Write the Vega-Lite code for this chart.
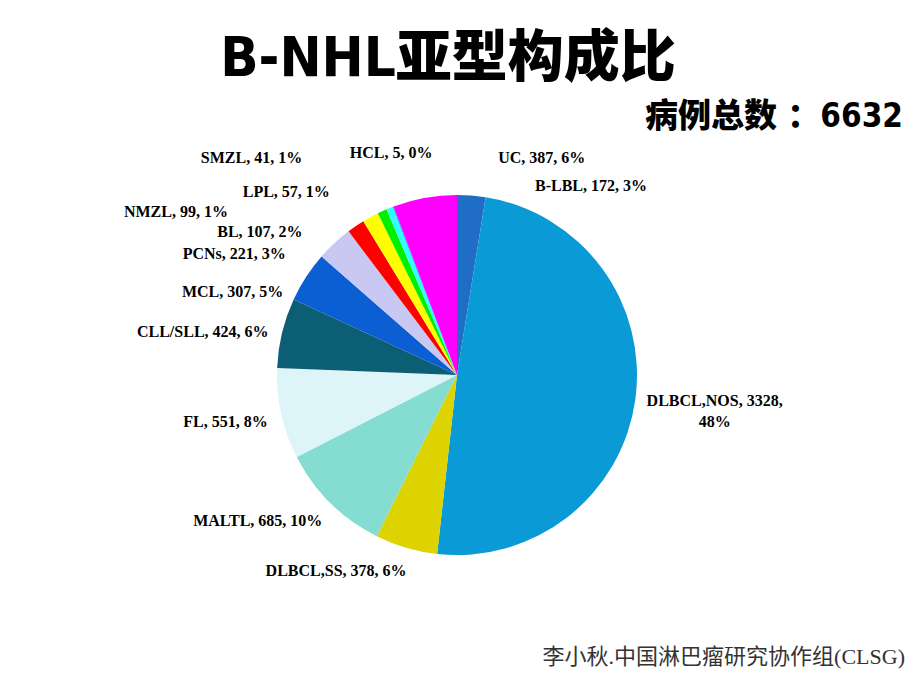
{
  "$schema": "https://vega.github.io/schema/vega-lite/v6.json",
  "autosize": "none",
  "width": 914,
  "height": 490,
  "padding": {"top": 130, "left": 0, "right": 6, "bottom": 70},
  "background": "white",
  "config": {"view": {"stroke": null}},
  "title": {
    "text": "B-NHL亚型构成比",
    "font": "DejaVu Sans Condensed, Liberation Sans Narrow, Noto Sans CJK SC, sans-serif",
    "fontSize": 56,
    "fontWeight": 900,
    "color": "#000000",
    "anchor": "middle",
    "dx": -9,
    "offset": 11
  },
  "data": {
    "values": [
      {"type": "B-LBL", "n": 172, "label": "B-LBL, 172, 3%"},
      {"type": "DLBCL,NOS", "n": 3328, "label": "DLBCL,NOS, 3328,\n48%"},
      {"type": "DLBCL,SS", "n": 378, "label": "DLBCL,SS, 378, 6%"},
      {"type": "MALTL", "n": 685, "label": "MALTL, 685, 10%"},
      {"type": "FL", "n": 551, "label": "FL, 551, 8%"},
      {"type": "CLL/SLL", "n": 424, "label": "CLL/SLL, 424, 6%"},
      {"type": "MCL", "n": 307, "label": "MCL, 307, 5%"},
      {"type": "PCNs", "n": 221, "label": "PCNs, 221, 3%"},
      {"type": "BL", "n": 107, "label": "BL, 107, 2%"},
      {"type": "NMZL", "n": 99, "label": "NMZL, 99, 1%"},
      {"type": "LPL", "n": 57, "label": "LPL, 57, 1%"},
      {"type": "SMZL", "n": 41, "label": "SMZL, 41, 1%"},
      {"type": "HCL", "n": 5, "label": "HCL, 5, 0%"},
      {"type": "UC", "n": 387, "label": "UC, 387, 6%"}
    ]
  },
  "transform": [{"window": [{"op": "row_number", "as": "i"}]}],
  "layer": [
    {
      "mark": {"type": "arc", "outerRadius": 180},
      "encoding": {
        "theta": {"field": "n", "type": "quantitative", "stack": true},
        "order": {"field": "i", "type": "quantitative"},
        "color": {
          "field": "type",
          "type": "nominal",
          "legend": null,
          "scale": {
            "domain": ["B-LBL", "DLBCL,NOS", "DLBCL,SS", "MALTL", "FL", "CLL/SLL", "MCL", "PCNs", "BL", "NMZL", "LPL", "SMZL", "HCL", "UC"],
            "range": ["#1F6DC4", "#0A9AD6", "#DDD300", "#84DDD0", "#DDF4F9", "#0B5E74", "#0C5ED3", "#C8C8F2", "#FF0000", "#FFFF00", "#00EE00", "#2FFFFF", "#3366FF", "#FF00FF"]
          }
        }
      }
    },
    {
      "mark": {"type": "text", "radius": 200, "align": "right", "dx": 6, "dy": 4, "font": "Liberation Serif", "fontWeight": "bold", "fontSize": 16, "color": "#000000"},
      "encoding": {
        "theta": {"field": "n", "type": "quantitative", "stack": true},
        "order": {"field": "i", "type": "quantitative"},
        "text": {"condition": {"test": {"field": "type", "oneOf": ["DLBCL,SS", "MALTL", "FL", "CLL/SLL"]}, "field": "label"}, "value": ""}
      }
    },
    {
      "mark": {"type": "text", "radius": 260, "align": "center", "dy": -9, "lineBreak": "\n", "lineHeight": 21, "font": "Liberation Serif", "fontWeight": "bold", "fontSize": 16, "color": "#000000"},
      "encoding": {
        "theta": {"field": "n", "type": "quantitative", "stack": true},
        "order": {"field": "i", "type": "quantitative"},
        "text": {"condition": {"test": {"field": "type", "equal": "DLBCL,NOS"}, "field": "label"}, "value": ""}
      }
    },
    {
      "mark": {"type": "text", "radius": 200, "align": "right", "dx": -6, "dy": 26, "font": "Liberation Serif", "fontWeight": "bold", "fontSize": 16, "color": "#000000"},
      "encoding": {
        "theta": {"field": "n", "type": "quantitative", "stack": true},
        "order": {"field": "i", "type": "quantitative"},
        "text": {"condition": {"test": {"field": "type", "equal": "MCL"}, "field": "label"}, "value": ""}
      }
    },
    {
      "mark": {"type": "text", "radius": 200, "align": "right", "dx": -35, "dy": 25, "font": "Liberation Serif", "fontWeight": "bold", "fontSize": 16, "color": "#000000"},
      "encoding": {
        "theta": {"field": "n", "type": "quantitative", "stack": true},
        "order": {"field": "i", "type": "quantitative"},
        "text": {"condition": {"test": {"field": "type", "equal": "PCNs"}, "field": "label"}, "value": ""}
      }
    },
    {
      "mark": {"type": "text", "radius": 200, "align": "right", "dx": -42, "dy": 22, "font": "Liberation Serif", "fontWeight": "bold", "fontSize": 16, "color": "#000000"},
      "encoding": {
        "theta": {"field": "n", "type": "quantitative", "stack": true},
        "order": {"field": "i", "type": "quantitative"},
        "text": {"condition": {"test": {"field": "type", "equal": "BL"}, "field": "label"}, "value": ""}
      }
    },
    {
      "mark": {"type": "text", "radius": 200, "align": "right", "dx": -133, "dy": 12, "font": "Liberation Serif", "fontWeight": "bold", "fontSize": 16, "color": "#000000"},
      "encoding": {
        "theta": {"field": "n", "type": "quantitative", "stack": true},
        "order": {"field": "i", "type": "quantitative"},
        "text": {"condition": {"test": {"field": "type", "equal": "NMZL"}, "field": "label"}, "value": ""}
      }
    },
    {
      "mark": {"type": "text", "radius": 200, "align": "right", "dx": -44, "dy": -1, "font": "Liberation Serif", "fontWeight": "bold", "fontSize": 16, "color": "#000000"},
      "encoding": {
        "theta": {"field": "n", "type": "quantitative", "stack": true},
        "order": {"field": "i", "type": "quantitative"},
        "text": {"condition": {"test": {"field": "type", "equal": "LPL"}, "field": "label"}, "value": ""}
      }
    },
    {
      "mark": {"type": "text", "radius": 200, "align": "right", "dx": -80, "dy": -32, "font": "Liberation Serif", "fontWeight": "bold", "fontSize": 16, "color": "#000000"},
      "encoding": {
        "theta": {"field": "n", "type": "quantitative", "stack": true},
        "order": {"field": "i", "type": "quantitative"},
        "text": {"condition": {"test": {"field": "type", "equal": "SMZL"}, "field": "label"}, "value": ""}
      }
    },
    {
      "mark": {"type": "text", "radius": 200, "align": "center", "dx": 5, "dy": -35, "font": "Liberation Serif", "fontWeight": "bold", "fontSize": 16, "color": "#000000"},
      "encoding": {
        "theta": {"field": "n", "type": "quantitative", "stack": true},
        "order": {"field": "i", "type": "quantitative"},
        "text": {"condition": {"test": {"field": "type", "equal": "HCL"}, "field": "label"}, "value": ""}
      }
    },
    {
      "mark": {"type": "text", "radius": 200, "align": "left", "dx": 77, "dy": -20, "font": "Liberation Serif", "fontWeight": "bold", "fontSize": 16, "color": "#000000"},
      "encoding": {
        "theta": {"field": "n", "type": "quantitative", "stack": true},
        "order": {"field": "i", "type": "quantitative"},
        "text": {"condition": {"test": {"field": "type", "equal": "UC"}, "field": "label"}, "value": ""}
      }
    },
    {
      "mark": {"type": "text", "radius": 200, "align": "left", "dx": 62, "dy": 10, "font": "Liberation Serif", "fontWeight": "bold", "fontSize": 16, "color": "#000000"},
      "encoding": {
        "theta": {"field": "n", "type": "quantitative", "stack": true},
        "order": {"field": "i", "type": "quantitative"},
        "text": {"condition": {"test": {"field": "type", "equal": "B-LBL"}, "field": "label"}, "value": ""}
      }
    },
    {
      "data": {"values": [{"note": "病例总数   ：6632"}]},
      "mark": {"type": "text", "align": "right", "baseline": "alphabetic", "dx": -11, "dy": -3, "font": "DejaVu Sans Condensed, Liberation Sans Narrow, Noto Sans CJK SC, sans-serif", "fontWeight": 900, "fontSize": 33, "color": "#000000"},
      "encoding": {
        "x": {"value": "width"},
        "y": {"value": 0},
        "text": {"field": "note"}
      }
    },
    {
      "data": {"values": [{"note": "李小秋.中国淋巴瘤研究协作组(CLSG)"}]},
      "mark": {"type": "text", "align": "right", "baseline": "alphabetic", "dx": -9, "dy": 44, "font": "Liberation Serif, Noto Sans CJK SC, serif", "fontSize": 22, "color": "#333333"},
      "encoding": {
        "x": {"value": "width"},
        "y": {"value": "height"},
        "text": {"field": "note"}
      }
    }
  ]
}
